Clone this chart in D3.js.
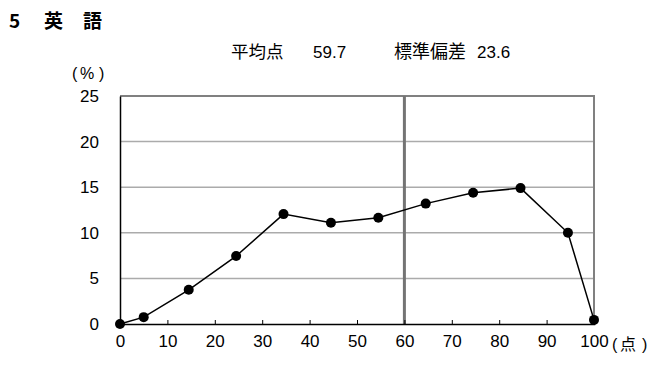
<!DOCTYPE html>
<html lang="ja">
<head>
  <meta charset="UTF-8">
  <title>英語 得点分布</title>
  <style>
    body { margin: 0; background: #fff; }
    svg text { font-family: "Liberation Sans Narrow", "Liberation Sans", "Noto Sans CJK JP", sans-serif; fill: #000; }
    .jp { font-family: "Noto Sans CJK JP", sans-serif; }
  </style>
</head>
<body>
  <svg width="666" height="365"></svg>

  <script src="https://d3js.org/d3.v7.min.js"></script>
  <script>
    // score (x) and percentage (y)
    const scores = [0, 5, 14.5, 24.5, 34.5, 44.5, 54.5, 64.5, 74.5, 84.5, 94.5, 100];
    const percents = [0, 0.75, 3.75, 7.45, 12.05, 11.1, 11.65, 13.2, 14.4, 14.9, 10.0, 0.45];
    const xTicks = [0, 10, 20, 30, 40, 50, 60, 70, 80, 90, 100];
    const yTicks = [0, 5, 10, 15, 20, 25];
    const meanScore = 59.7;
    const stdDev = 23.6;
    const meanLineAt = 60; // line is drawn on the 60 tick

    const svg = d3.select('svg');
    const plotL = 120, plotR = 594, plotT = 96, plotB = 324;

    const x = d3.scaleLinear().domain([0, 100]).range([plotL, plotR]);
    const y = d3.scaleLinear().domain([0, 25]).range([plotB, plotT]);

    // titles
    const title = svg.append('text').attr('class', 'jp')
      .attr('y', 28).style('font-size', '19px').style('font-weight', 'bold');
    title.append('tspan').attr('x', 9).text('5');
    title.append('tspan').attr('x', 44).text('英');
    title.append('tspan').attr('x', 83).text('語');

    const sub = svg.append('g').style('font-size', '17px');
    sub.append('text').attr('class', 'jp').attr('x', 231).attr('y', 58)
      .style('font-size', '17.5px').text('平均点');
    sub.append('text').attr('x', 313).attr('y', 58).text(meanScore.toFixed(1));
    sub.append('text').attr('class', 'jp').attr('x', 394).attr('y', 58)
      .style('font-size', '18px').text('標準偏差');
    sub.append('text').attr('x', 477).attr('y', 58).text(stdDev.toFixed(1));

    const pct = svg.append('text').attr('y', 79).style('font-size', '16px');
    pct.append('tspan').attr('x', 72).text('(');
    pct.append('tspan').attr('x', 80).text('%');
    pct.append('tspan').attr('x', 99).text(')');

    // gridlines
    svg.append('g').selectAll('line')
      .data(yTicks.filter(d => d > 0 && d < 25))
      .join('line')
      .attr('x1', plotL).attr('x2', plotR)
      .attr('y1', d => y(d)).attr('y2', d => y(d))
      .attr('stroke', '#ababab').attr('stroke-width', 1.5);

    // frame top / right
    svg.append('path')
      .attr('d', `M${plotL},${y(25)}H${plotR}V${plotB}`)
      .attr('fill', 'none').attr('stroke', '#808080').attr('stroke-width', 2);

    // mean line
    svg.append('line')
      .attr('x1', x(meanLineAt)).attr('x2', x(meanLineAt))
      .attr('y1', y(25)).attr('y2', plotB)
      .attr('stroke', '#747474').attr('stroke-width', 3);

    // axes
    const yAxis = svg.append('g')
      .attr('transform', `translate(${plotL},0)`)
      .call(d3.axisLeft(y).tickValues(yTicks).tickSize(0).tickPadding(21));
    yAxis.select('.domain').attr('stroke', '#000').attr('stroke-width', 1.5);
    yAxis.selectAll('text').style('font-size', '17px');

    const xAxis = svg.append('g')
      .attr('transform', `translate(0,${plotB})`)
      .call(d3.axisBottom(x).tickValues(xTicks).tickSize(-4).tickPadding(11));
    xAxis.select('.domain').attr('stroke', '#000').attr('stroke-width', 1.5);
    xAxis.selectAll('.tick line').attr('stroke', '#000');
    xAxis.selectAll('text').style('font-size', '17px');

    const unit = svg.append('text').attr('y', 350).style('font-size', '16px');
    unit.append('tspan').attr('x', 612).text('(');
    unit.append('tspan').attr('class', 'jp').attr('x', 620).text('点');
    unit.append('tspan').attr('x', 642).text(')');

    // series
    const pts = scores.map((s, i) => [s, percents[i]]);
    svg.append('path')
      .datum(pts)
      .attr('d', d3.line().x(d => x(d[0])).y(d => y(d[1])))
      .attr('fill', 'none').attr('stroke', '#000').attr('stroke-width', 1.5);

    svg.append('g').selectAll('circle')
      .data(pts)
      .join('circle')
      .attr('cx', d => x(d[0])).attr('cy', d => y(d[1]))
      .attr('r', 5).attr('fill', '#000');
  </script>
</body>
</html>
